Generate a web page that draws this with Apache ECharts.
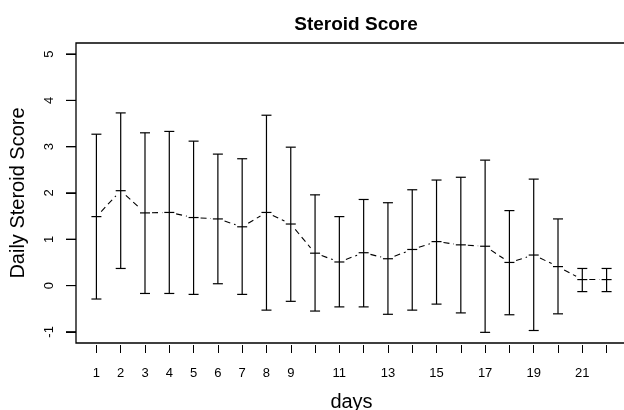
<!DOCTYPE html>
<html>
<head>
<meta charset="utf-8">
<script src="https://cdn.jsdelivr.net/npm/echarts@6/dist/echarts.min.js"></script>
<style>
html,body{margin:0;padding:0;background:#fff;}
#main{width:624px;height:410px;}
</style>
</head>
<body>
<div id="main"></div>
<script>
const days = [1,2,3,4,5,6,7,8,9,10,11,12,13,14,15,16,17,18,19,20,21,22];
const meanScore  = [1.49, 2.05, 1.57, 1.58, 1.47, 1.44, 1.27, 1.58, 1.33, 0.70, 0.51, 0.71, 0.58, 0.78, 0.95, 0.88, 0.85, 0.50, 0.66, 0.41, 0.13, 0.13];
const upperScore = [3.27, 3.73, 3.30, 3.33, 3.12, 2.84, 2.74, 3.68, 2.99, 1.96, 1.49, 1.86, 1.79, 2.07, 2.28, 2.34, 2.71, 1.62, 2.30, 1.44, 0.37, 0.37];
const lowerScore = [-0.29, 0.37, -0.17, -0.17, -0.19, 0.04, -0.19, -0.53, -0.34, -0.55, -0.46, -0.46, -0.62, -0.53, -0.40, -0.59, -1.01, -0.63, -0.97, -0.61, -0.13, -0.13];
const xTickLabels = [1,2,3,4,5,6,7,8,9,11,13,15,17,19,21];
const yTicks = [-1,0,1,2,3,4,5];

const FONT = '"Liberation Sans", Arial, Helvetica, sans-serif';
const X_MIN = 0.16, X_MAX = 22.84, Y_MIN = -1.24, Y_MAX = 5.24;

const barData = days.map((d, i) => [d, lowerScore[i], upperScore[i], meanScore[i]]);
const segData = [];
for (let i = 0; i < days.length - 1; i++) {
  segData.push([days[i], meanScore[i], days[i + 1], meanScore[i + 1]]);
}
const yTickData = yTicks.map(v => [X_MIN, v]);

const chart = echarts.init(document.getElementById('main'), null, {renderer: 'canvas'});
chart.setOption({
  animation: false,
  backgroundColor: '#fff',
  title: {
    text: 'Steroid Score',
    left: 351,
    top: 10,
    textAlign: 'center',
    textStyle: {fontFamily: FONT, fontWeight: 'bold', fontSize: 19, color: '#000'}
  },
  grid: {
    left: 76, top: 43, right: -3, bottom: 67,
    outerBoundsMode: 'none',
    containLabel: false,
    show: true, borderColor: '#000', borderWidth: 1.3, backgroundColor: 'transparent'
  },
  xAxis: {
    type: 'value',
    min: X_MIN, max: X_MAX,
    offset: 2,
    name: 'days',
    nameLocation: 'middle',
    nameGap: 47,
    nameTextStyle: {fontFamily: FONT, fontSize: 20, color: '#000'},
    axisLine: {show: false, onZero: false},
    axisTick: {show: true, length: 8, customValues: days, lineStyle: {color: '#000', width: 1}},
    axisLabel: {customValues: xTickLabels, margin: 22, fontFamily: FONT, fontSize: 13, color: '#000'},
    splitLine: {show: false}
  },
  yAxis: {
    type: 'value',
    min: Y_MIN, max: Y_MAX,
    offset: 0,
    name: 'Daily Steroid Score',
    nameLocation: 'middle',
    nameGap: 48,
    nameTextStyle: {fontFamily: FONT, fontSize: 20, color: '#000'},
    axisLine: {show: false, onZero: false},
    axisTick: {show: true, length: 10, customValues: yTicks, lineStyle: {color: '#000', width: 1}},
    axisLabel: {customValues: yTicks, rotate: 90, margin: 20, fontFamily: FONT, fontSize: 13, color: '#000'},
    splitLine: {show: false}
  },
  series: [
    {
      type: 'custom',
      name: 'y ticks',
      clip: false,
      silent: true,
      z: 50,
      data: yTickData,
      encode: {x: 0, y: 1},
      renderItem: function (params, api) {
        const p = api.coord([api.value(0), api.value(1)]);
        return {
          type: 'line',
          shape: {x1: p[0] - 10, y1: p[1], x2: p[0], y2: p[1]},
          style: {stroke: '#000', lineWidth: 1}
        };
      }
    },
    {
      type: 'custom',
      name: 'mean line',
      data: segData,
      encode: {x: [0, 2], y: [1, 3]},
      renderItem: function (params, api) {
        const p1 = api.coord([api.value(0), api.value(1)]);
        const p2 = api.coord([api.value(2), api.value(3)]);
        const dx = p2[0] - p1[0], dy = p2[1] - p1[1];
        const len = Math.sqrt(dx * dx + dy * dy);
        const gap = 7;
        if (len <= 2 * gap) return null;
        const ux = dx / len, uy = dy / len;
        return {
          type: 'line',
          shape: {x1: p1[0] + ux * gap, y1: p1[1] + uy * gap, x2: p2[0] - ux * gap, y2: p2[1] - uy * gap},
          style: {stroke: '#000', lineWidth: 1.1, lineDash: [6, 4]}
        };
      }
    },
    {
      type: 'custom',
      name: 'error bars',
      data: barData,
      encode: {x: 0, y: [1, 2, 3]},
      renderItem: function (params, api) {
        const x = api.value(0);
        const lo = api.coord([x, api.value(1)]);
        const hi = api.coord([x, api.value(2)]);
        const mid = api.coord([x, api.value(3)]);
        const w = 5;
        const st = {stroke: '#000', lineWidth: 1.2};
        return {
          type: 'group',
          children: [
            {type: 'line', shape: {x1: lo[0], y1: lo[1], x2: hi[0], y2: hi[1]}, style: st},
            {type: 'line', shape: {x1: lo[0] - w, y1: lo[1], x2: lo[0] + w, y2: lo[1]}, style: st},
            {type: 'line', shape: {x1: hi[0] - w, y1: hi[1], x2: hi[0] + w, y2: hi[1]}, style: st},
            {type: 'line', shape: {x1: mid[0] - w, y1: mid[1], x2: mid[0] + w, y2: mid[1]}, style: st}
          ]
        };
      }
    }
  ]
});

// backup y-axis tick marks, placed through the grid's own pixel conversion
const tickMarks = [];
yTicks.forEach(v => {
  const p = chart.convertToPixel({gridIndex: 0}, [X_MIN, v]);
  if (p && isFinite(p[0]) && isFinite(p[1])) {
    tickMarks.push({
      type: 'line',
      z: 100,
      silent: true,
      shape: {x1: p[0] - 10, y1: p[1], x2: p[0], y2: p[1]},
      style: {stroke: '#000', lineWidth: 1}
    });
  }
});
if (tickMarks.length) chart.setOption({graphic: {elements: tickMarks}});
</script>
</body>
</html>
